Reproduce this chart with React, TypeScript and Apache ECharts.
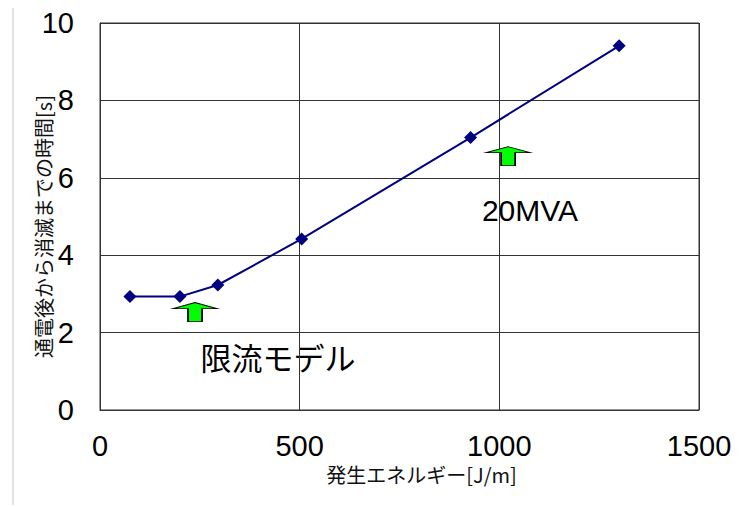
import React, { useEffect, useRef } from "react";
import * as echarts from "echarts";

const energy = [75, 200, 295, 505, 928, 1300];
const time = [2.93, 2.93, 3.23, 4.42, 7.04, 9.41];
const arrowPoints = [
  [238, 2.53],
  [1022, 6.56],
];
const xTicks = { min: 0, max: 1500, interval: 500 };
const yTicks = { min: 0, max: 10, interval: 2 };
const xName = "発生エネルギー[J/m]";
const yName = "通電後から消滅までの時間[s]";
const labelModel = "限流モデル";
const label20 = "20MVA";

const numFont = "'Liberation Sans', Arial, sans-serif";
const cjkFont = "'Noto Sans CJK JP', sans-serif";

export default function App() {
  const ref = useRef<HTMLDivElement>(null);
  useEffect(() => {
    if (!ref.current) return;
    const chart = echarts.init(ref.current, null, { renderer: "svg" });
    chart.setOption({
      animation: false,
      backgroundColor: "#ffffff",
      grid: {
        left: 100,
        top: 23,
        right: 40,
        bottom: 97,
        show: true,
        borderColor: "#333",
        borderWidth: 1,
      },
      xAxis: {
        type: "value",
        min: xTicks.min,
        max: xTicks.max,
        interval: xTicks.interval,
        name: xName,
        nameLocation: "middle",
        nameGap: 54,
        nameMoveOverlap: false,
        nameTextStyle: {
          fontFamily: cjkFont,
          fontSize: 20,
          lineHeight: 20,
          color: "#111",
          padding: [0, 0, 0, 44],
        },
        axisLine: { show: true, lineStyle: { color: "#333", width: 1 } },
        axisTick: { show: false },
        axisLabel: {
          fontFamily: numFont,
          fontSize: 29,
          lineHeight: 26,
          color: "#000",
          margin: 23,
          formatter: (v: number) => String(v),
        },
        splitLine: { show: true, lineStyle: { color: "#333", width: 1 } },
      },
      yAxis: {
        type: "value",
        min: yTicks.min,
        max: yTicks.max,
        interval: yTicks.interval,
        name: yName,
        nameLocation: "middle",
        nameGap: 47,
        nameMoveOverlap: false,
        nameTextStyle: { fontFamily: cjkFont, fontSize: 20, color: "#111", padding: [0, 20, 0, 0] },
        axisLine: { show: true, lineStyle: { color: "#333", width: 1 } },
        axisTick: { show: false },
        axisLabel: {
          fontFamily: numFont,
          fontSize: 29,
          color: "#000",
          margin: 26,
          formatter: (v: number) => String(v),
        },
        splitLine: { show: true, lineStyle: { color: "#333", width: 1 } },
      },
      series: [
        {
          type: "line",
          data: energy.map((e, i) => [e, time[i]]),
          symbol: "diamond",
          symbolSize: 13,
          lineStyle: { color: "#000080", width: 2 },
          itemStyle: { color: "#000080" },
          markPoint: {
            symbol: "path://M0,6 L22,0 L44,6 L29,6 L29,19 L15,19 L15,6 Z",
            symbolSize: [44, 19],
            symbolKeepAspect: false,
            label: { show: false },
            itemStyle: { color: "#00ff00", borderColor: "#000", borderWidth: 1.2 },
            data: arrowPoints.map((c) => ({ coord: c })),
          },
        },
      ],
      graphic: [
        {
          type: "line",
          shape: { x1: 13, y1: 8, x2: 13, y2: 505 },
          style: { stroke: "#c8c8c8", lineWidth: 1 },
        },
        {
          type: "text",
          x: 278,
          y: 356,
          style: {
            text: labelModel,
            fontFamily: cjkFont,
            fontSize: 31,
            fill: "#000",
            align: "center",
            verticalAlign: "middle",
          },
        },
        {
          type: "text",
          x: 530,
          y: 210,
          style: {
            text: label20,
            fontFamily: "'Liberation Sans', Arial, sans-serif",
            fontSize: 30,
            fill: "#000",
            align: "center",
            verticalAlign: "middle",
          },
        },
      ],
    });
    return () => chart.dispose();
  }, []);
  return (
    <div
      ref={ref}
      style={{ position: "fixed", left: 0, top: 0, width: 739, height: 507, background: "#fff" }}
    />
  );
}
